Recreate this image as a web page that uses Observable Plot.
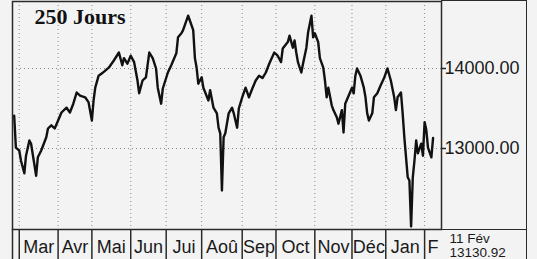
<!DOCTYPE html>
<html><head><meta charset="utf-8">
<script src="https://cdn.jsdelivr.net/npm/d3@7"></script>
<script src="https://cdn.jsdelivr.net/npm/@observablehq/plot@0.6"></script>
<style>
html,body{margin:0;padding:0;background:#f3f3f3;}
#wrap{position:relative;width:537px;height:259px;overflow:hidden;font-family:"Liberation Sans",Arial,sans-serif;}
#wrap svg{background:transparent;}
#panel{position:absolute;left:441px;top:0;width:86px;height:259px;border-top:1.5px solid #2a2a2a;border-right:1.5px solid #2a2a2a;box-sizing:border-box;pointer-events:none}
#panel .sep{position:absolute;left:0;right:0;top:228px;border-top:1.5px solid #2a2a2a}
</style></head><body>
<div id="wrap"><div id="panel"><div class="sep"></div></div></div>
<script>
const title = "250 Jours";
const lastDate = "11 Fév";
const lastClose = 13130.92;

// trading-day index (0 = left edge of plot)
const days = [
  1,2,4,5,7,8,10,11,14,15,
  17,20,21,23,25,27,29,32,34,36,
  38,40,43,45,47,48,49,51,53,57,
  60,63,65,66,68,70,72,74,75,77,
  79,81,83,85,86,88,89,92,94,97,
  98,100,101,104,105,107,108,109,110,112,
  113,116,117,119,121,122,123,124,125,126,
  128,130,131,133,134,136,138,140,142,144,
  146,148,150,152,155,157,159,160,163,164,
  166,167,168,169,171,172,174,175,177,178,
  179,181,182,184,185,186,187,189,190,192,
  193,195,196,197,199,201,202,203,204,206,
  208,209,210,211,213,214,216,218,220,222,
  224,226,227,228,230,231,232,233,234,235,
  236,237,238,239,240,242,243,244,245,246,
  248,249
];
const closes = [
  13410,13010,12975,12850,12690,12910,13100,13060,12660,12890,
  12975,13140,13250,13290,13250,13350,13450,13510,13450,13560,
  13700,13660,13640,13580,13350,13600,13760,13910,13940,14010,
  14100,14200,14040,14130,14060,14160,14080,13850,13690,13850,
  13890,14200,14130,14000,13760,13560,13750,13950,14040,14190,
  14390,14440,14480,14660,14600,14480,14130,14010,13810,13890,
  13760,13600,13730,13510,13440,13260,13190,12475,13140,13190,
  13440,13510,13440,13260,13500,13640,13760,13640,13750,13850,
  13910,13880,13950,14060,14200,14160,14080,14250,14330,14410,
  14260,14350,14200,14080,13950,14060,14260,14450,14660,14390,
  14440,14330,14130,14010,13850,13640,13760,13540,13480,13390,
  13310,13480,13200,13560,13660,13760,13690,13910,14000,13910,
  13760,13640,13440,13350,13440,13640,13690,13790,13880,14000,
  13850,13640,13480,13640,13700,13440,13140,12890,12640,12600,
  12025,12640,12850,13100,12940,13060,12910,13330,13230,13010,
  12890,lastClose
];

const monthNames  = ["Mar","Avr","Mai","Jun","Jui","Aoû","Sep","Oct","Nov","Déc","Jan","F"];
const monthStarts = [4,27,47,70,91,112,136,156,179,201,221,244];
const dayEnd = 254;
const yTicks = [13000, 14000];

const series = days.map((d, i) => ({day: d, close: closes[i]}));
const months = monthNames.map((name, i) => ({
  name,
  mid: (monthStarts[i] + (i + 1 < monthStarts.length ? monthStarts[i + 1] : dayEnd)) / 2
}));

const ink = "#2a2a2a";
const chart = Plot.plot({
  width: 537,
  height: 259,
  marginLeft: 12,
  marginRight: 96,
  marginTop: 1,
  marginBottom: 30,
  style: {background: "transparent", fontFamily: "'Liberation Sans', Arial, sans-serif", color: "#1a1a1a", overflow: "visible"},
  x: {type: "linear", domain: [0, dayEnd]},
  y: {type: "linear", domain: [11987.5, 14837.5]},
  marks: [
    Plot.ruleX(monthStarts, {stroke: "#8a8a8a", strokeWidth: 1, strokeDasharray: "1,3"}),
    Plot.ruleY(yTicks, {stroke: "#8a8a8a", strokeWidth: 1, strokeDasharray: "1,3"}),
    Plot.line(series, {x: "day", y: "close", stroke: "#111", strokeWidth: 2.4, strokeLinejoin: "round"}),
    Plot.frame({stroke: ink, strokeWidth: 1.5}),
    Plot.axisX([0, ...monthStarts], {tickSize: 30, tickFormat: () => "", stroke: ink, strokeWidth: 1.5, label: null}),
    Plot.text(months, {x: "mid", text: "name", frameAnchor: "bottom", lineAnchor: "top", dy: 11, fontSize: 18, fill: "#1a1a1a"}),
    Plot.axisY(yTicks, {anchor: "right", tickSize: 4, tickPadding: -1, tickFormat: d => d.toFixed(2), fontSize: 18, stroke: ink, strokeWidth: 1.5, label: null, fill: "#1a1a1a"}),
    Plot.text([title], {frameAnchor: "top-left", dx: 22, dy: 7, lineAnchor: "top", textAnchor: "start", fontSize: 22, fontWeight: "bold", fontFamily: "'Liberation Serif', 'Times New Roman', serif", fill: "#111"}),
    Plot.text([lastDate + "\n" + lastClose.toFixed(2)], {frameAnchor: "bottom-right", dx: 8, dy: 3, lineAnchor: "top", textAnchor: "start", lineHeight: 1.08, fontSize: 13.5, fill: "#1a1a1a"})
  ]
});
document.getElementById("wrap").prepend(chart);
</script>
</body></html>
